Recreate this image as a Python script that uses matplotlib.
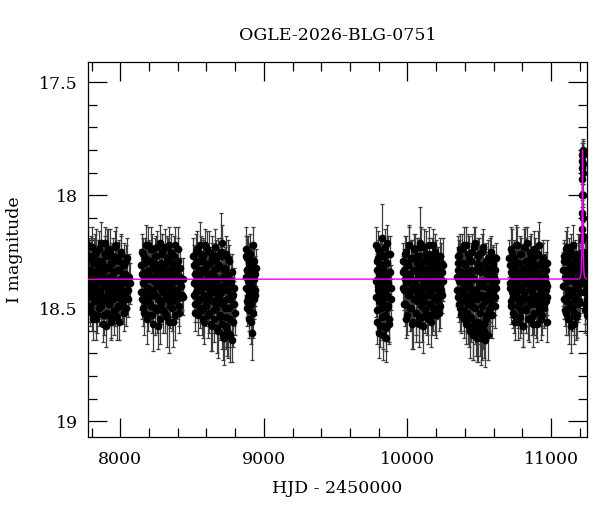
import numpy as np
import matplotlib
matplotlib.use("Agg")
import matplotlib.pyplot as plt
from matplotlib.ticker import MultipleLocator, FuncFormatter

plt.rcParams["font.family"] = ["DejaVu Serif"]

TITLE = "OGLE-2026-BLG-0751"

# ---- season 1 ----
s1_t = [7778, 7782, 7787, 7791, 7795, 7800, 7804, 7809, 7813, 7818, 7822, 7826, 7831, 7836, 7840,
        7845, 7849, 7854, 7858, 7863, 7867, 7872, 7876, 7881, 7886, 7890, 7895, 7899, 7904, 7908,
        7913, 7918, 7922, 7927, 7931, 7936, 7941, 7945, 7950, 7954, 7959, 7964, 7968, 7973, 7978,
        7982, 7987, 7992, 7996, 8001, 8006, 8011, 8016, 8021, 8026, 8031, 8037, 8043, 8052, 8066]
s1_m = [18.22, 18.41, 18.33, 18.50, 18.28, 18.45, 18.36, 18.55, 18.30, 18.39,
        18.26, 18.47, 18.34, 18.42, 18.53, 18.31, 18.38, 18.24, 18.44, 18.35,
        18.49, 18.29, 18.40, 18.57, 18.33, 18.21, 18.46, 18.37, 18.52, 18.27,
        18.43, 18.32, 18.48, 18.39, 18.25, 18.56, 18.36, 18.30, 18.44, 18.51,
        18.34, 18.23, 18.41, 18.38, 18.54, 18.28, 18.45, 18.33, 18.40, 18.49,
        18.26, 18.37, 18.47, 18.31, 18.43, 18.35, 18.50, 18.29, 18.42, 18.39]
s1_e = [0.08, 0.07, 0.09, 0.08, 0.10, 0.07, 0.08, 0.09, 0.07, 0.08,
        0.09, 0.08, 0.07, 0.11, 0.08, 0.09, 0.07, 0.08, 0.10, 0.08,
        0.07, 0.09, 0.08, 0.08, 0.10, 0.07, 0.09, 0.08, 0.07, 0.12,
        0.08, 0.09, 0.07, 0.08, 0.10, 0.08, 0.07, 0.09, 0.08, 0.11,
        0.08, 0.07, 0.09, 0.08, 0.10, 0.07, 0.08, 0.09, 0.08, 0.07,
        0.09, 0.08, 0.10, 0.07, 0.08, 0.09, 0.08, 0.07, 0.08, 0.09]
s1b_t = [7780, 7784, 7789, 7793, 7798, 7802, 7806, 7811, 7815, 7820, 7824, 7829, 7833, 7838, 7842,
         7847, 7851, 7856, 7860, 7865, 7869, 7874, 7879, 7883, 7888, 7892, 7897, 7901, 7906, 7911,
         7915, 7920, 7924, 7929, 7934, 7938, 7943, 7947, 7952, 7957, 7961, 7966, 7970, 7975, 7980,
         7984, 7989, 7994, 7998, 8003, 8008, 8013, 8018, 8023, 8028, 8034, 8040, 8047, 8057, 8062]
s1b_m = [18.38, 18.27, 18.49, 18.34, 18.43, 18.23, 18.52, 18.37, 18.30, 18.46,
         18.40, 18.25, 18.55, 18.33, 18.44, 18.29, 18.50, 18.36, 18.42, 18.21,
         18.47, 18.35, 18.31, 18.53, 18.39, 18.26, 18.45, 18.58, 18.32, 18.41,
         18.24, 18.48, 18.36, 18.43, 18.30, 18.54, 18.38, 18.27, 18.46, 18.34,
         18.51, 18.40, 18.22, 18.44, 18.33, 18.49, 18.29, 18.56, 18.37, 18.42,
         18.25, 18.47, 18.35, 18.52, 18.31, 18.44, 18.39, 18.28, 18.46, 18.36]
s1b_e = [0.09, 0.08, 0.07, 0.10, 0.08, 0.09, 0.08, 0.07, 0.11, 0.08,
         0.08, 0.10, 0.09, 0.07, 0.08, 0.09, 0.08, 0.12, 0.07, 0.09,
         0.08, 0.07, 0.10, 0.09, 0.08, 0.08, 0.07, 0.09, 0.10, 0.08,
         0.09, 0.07, 0.08, 0.11, 0.08, 0.09, 0.07, 0.08, 0.10, 0.08,
         0.07, 0.09, 0.08, 0.08, 0.10, 0.07, 0.09, 0.08, 0.08, 0.11,
         0.07, 0.08, 0.09, 0.08, 0.10, 0.07, 0.08, 0.09, 0.08, 0.10]

# ---- season 2 ----
s2_t = [8143, 8148, 8152, 8157, 8162, 8166, 8171, 8176, 8180, 8185, 8190, 8194, 8199, 8204, 8208,
        8213, 8218, 8222, 8227, 8232, 8236, 8241, 8246, 8250, 8255, 8260, 8264, 8269, 8274, 8278,
        8283, 8288, 8292, 8297, 8302, 8306, 8311, 8316, 8320, 8325, 8330, 8334, 8339, 8344, 8348,
        8353, 8358, 8362, 8367, 8372, 8376, 8381, 8386, 8391, 8396, 8401, 8407, 8414, 8424, 8438]
s2_m = [18.31, 18.46, 18.25, 18.39, 18.52, 18.34, 18.28, 18.44, 18.37, 18.55,
        18.22, 18.41, 18.33, 18.48, 18.29, 18.36, 18.53, 18.24, 18.43, 18.38,
        18.30, 18.50, 18.35, 18.27, 18.45, 18.40, 18.58, 18.32, 18.21, 18.47,
        18.36, 18.42, 18.26, 18.51, 18.34, 18.39, 18.23, 18.46, 18.30, 18.54,
        18.37, 18.28, 18.44, 18.33, 18.49, 18.25, 18.41, 18.35, 18.56, 18.31,
        18.38, 18.22, 18.47, 18.34, 18.43, 18.29, 18.52, 18.36, 18.40, 18.45]
s2_e = [0.07, 0.09, 0.08, 0.08, 0.10, 0.07, 0.09, 0.08, 0.07, 0.11,
        0.08, 0.08, 0.09, 0.07, 0.08, 0.10, 0.08, 0.07, 0.09, 0.08,
        0.08, 0.12, 0.07, 0.09, 0.08, 0.08, 0.10, 0.07, 0.08, 0.09,
        0.07, 0.08, 0.09, 0.10, 0.07, 0.08, 0.08, 0.09, 0.07, 0.13,
        0.08, 0.09, 0.07, 0.08, 0.10, 0.08, 0.07, 0.09, 0.11, 0.08,
        0.07, 0.08, 0.09, 0.08, 0.07, 0.10, 0.09, 0.08, 0.07, 0.08]
s2b_t = [8145, 8150, 8155, 8159, 8164, 8169, 8173, 8178, 8183, 8187, 8192, 8197, 8201, 8206, 8211,
         8215, 8220, 8225, 8229, 8234, 8239, 8243, 8248, 8253, 8257, 8262, 8267, 8271, 8276, 8281,
         8285, 8290, 8295, 8299, 8304, 8309, 8313, 8318, 8323, 8327, 8332, 8337, 8341, 8346, 8351,
         8355, 8360, 8365, 8369, 8374, 8379, 8384, 8389, 8394, 8399, 8404, 8410, 8418, 8428, 8434]
s2b_m = [18.43, 18.35, 18.26, 18.50, 18.38, 18.30, 18.47, 18.22, 18.41, 18.34,
         18.53, 18.29, 18.45, 18.37, 18.24, 18.49, 18.32, 18.42, 18.57, 18.36,
         18.27, 18.44, 18.39, 18.51, 18.23, 18.46, 18.33, 18.40, 18.55, 18.30,
         18.48, 18.25, 18.38, 18.43, 18.31, 18.52, 18.36, 18.45, 18.28, 18.41,
         18.34, 18.56, 18.22, 18.47, 18.39, 18.30, 18.50, 18.35, 18.44, 18.27,
         18.42, 18.53, 18.33, 18.46, 18.38, 18.24, 18.49, 18.32, 18.44, 18.37]
s2b_e = [0.08, 0.09, 0.07, 0.08, 0.10, 0.08, 0.07, 0.09, 0.08, 0.11,
         0.07, 0.09, 0.08, 0.08, 0.10, 0.07, 0.09, 0.08, 0.12, 0.07,
         0.08, 0.09, 0.08, 0.10, 0.07, 0.08, 0.09, 0.08, 0.11, 0.07,
         0.09, 0.08, 0.07, 0.10, 0.08, 0.09, 0.08, 0.07, 0.10, 0.08,
         0.09, 0.14, 0.08, 0.07, 0.09, 0.08, 0.10, 0.08, 0.07, 0.09,
         0.08, 0.11, 0.07, 0.09, 0.08, 0.10, 0.09, 0.08, 0.07, 0.09]

# ---- season 3 ----
s3_t = [8509, 8514, 8518, 8523, 8528, 8532, 8537, 8541, 8546, 8551, 8555, 8560, 8565, 8569, 8574,
        8579, 8583, 8588, 8593, 8597, 8602, 8607, 8611, 8616, 8621, 8625, 8630, 8635, 8639, 8644,
        8649, 8653, 8658, 8663, 8667, 8672, 8677, 8681, 8686, 8691, 8695, 8700, 8705, 8709, 8714,
        8719, 8723, 8728, 8733, 8737, 8742, 8747, 8752, 8757, 8762, 8767, 8773, 8780, 8788, 8797]
s3_m = [18.27, 18.44, 18.35, 18.52, 18.30, 18.40, 18.24, 18.47, 18.36, 18.33,
        18.50, 18.26, 18.42, 18.38, 18.55, 18.29, 18.45, 18.34, 18.22, 18.48,
        18.37, 18.31, 18.53, 18.41, 18.25, 18.46, 18.35, 18.57, 18.28, 18.43,
        18.39, 18.51, 18.23, 18.36, 18.48, 18.32, 18.59, 18.27, 18.44, 18.40,
        18.54, 18.25, 18.47, 18.21, 18.62, 18.37, 18.33, 18.50, 18.26, 18.58,
        18.42, 18.35, 18.61, 18.29, 18.46, 18.55, 18.38, 18.64, 18.44, 18.52]
s3_e = [0.08, 0.07, 0.09, 0.08, 0.07, 0.10, 0.08, 0.09, 0.07, 0.08,
        0.09, 0.08, 0.10, 0.07, 0.08, 0.09, 0.11, 0.08, 0.07, 0.09,
        0.08, 0.08, 0.10, 0.07, 0.09, 0.08, 0.08, 0.12, 0.07, 0.09,
        0.08, 0.10, 0.08, 0.07, 0.09, 0.08, 0.11, 0.08, 0.13, 0.09,
        0.10, 0.17, 0.09, 0.08, 0.11, 0.07, 0.09, 0.12, 0.08, 0.10,
        0.09, 0.08, 0.11, 0.07, 0.10, 0.12, 0.09, 0.10, 0.08, 0.10]
s3b_t = [8511, 8516, 8521, 8525, 8530, 8535, 8539, 8544, 8548, 8553, 8558, 8562, 8567, 8572, 8576,
         8581, 8586, 8590, 8595, 8600, 8604, 8609, 8614, 8618, 8623, 8628, 8632, 8637, 8642, 8646,
         8651, 8656, 8660, 8665, 8670, 8674, 8679, 8684, 8688, 8693, 8698, 8702, 8707, 8712, 8716,
         8721, 8726, 8730, 8735, 8740, 8744, 8749, 8754, 8759, 8764, 8770, 8776, 8784, 8792, 8795]
s3b_m = [18.39, 18.31, 18.48, 18.25, 18.43, 18.36, 18.53, 18.29, 18.41, 18.22,
         18.46, 18.34, 18.51, 18.38, 18.27, 18.44, 18.56, 18.32, 18.40, 18.49,
         18.24, 18.45, 18.35, 18.52, 18.30, 18.42, 18.38, 18.58, 18.26, 18.47,
         18.33, 18.55, 18.41, 18.29, 18.50, 18.37, 18.45, 18.60, 18.31, 18.53,
         18.43, 18.27, 18.57, 18.36, 18.48, 18.63, 18.40, 18.32, 18.54, 18.46,
         18.60, 18.28, 18.50, 18.39, 18.62, 18.44, 18.34, 18.56, 18.41, 18.48]
s3b_e = [0.07, 0.09, 0.08, 0.08, 0.10, 0.07, 0.09, 0.08, 0.07, 0.10,
         0.08, 0.09, 0.11, 0.07, 0.08, 0.09, 0.10, 0.08, 0.07, 0.09,
         0.08, 0.10, 0.08, 0.09, 0.07, 0.08, 0.09, 0.11, 0.08, 0.09,
         0.07, 0.10, 0.08, 0.09, 0.11, 0.08, 0.09, 0.12, 0.08, 0.10,
         0.09, 0.08, 0.11, 0.09, 0.10, 0.12, 0.08, 0.09, 0.13, 0.10,
         0.11, 0.08, 0.10, 0.09, 0.12, 0.10, 0.08, 0.11, 0.09, 0.10]

# ---- season 4 (short) ----
s4_t = [8874, 8877, 8880, 8883, 8886, 8889, 8892, 8895, 8898, 8901, 8904, 8907, 8910,
        8913, 8916, 8919, 8922, 8925, 8928, 8931, 8934, 8937, 8940, 8942, 8918,
        8875, 8879, 8882, 8885, 8888, 8891, 8894, 8897, 8900, 8903, 8906, 8909, 8912, 8921, 8936]
s4_m = [18.24, 18.41, 18.33, 18.50, 18.28, 18.38, 18.45, 18.30, 18.55, 18.36, 18.26, 18.43, 18.34,
        18.48, 18.31, 18.40, 18.22, 18.52, 18.37, 18.29, 18.46, 18.35, 18.42, 18.32, 18.61,
        18.36, 18.27, 18.47, 18.33, 18.42, 18.25, 18.51, 18.38, 18.30, 18.45, 18.34, 18.56, 18.40, 18.29, 18.44]
s4_e = [0.10, 0.07, 0.09, 0.08, 0.10, 0.07, 0.08, 0.09, 0.08, 0.07, 0.09, 0.08, 0.10,
        0.07, 0.08, 0.09, 0.08, 0.11, 0.07, 0.08, 0.09, 0.08, 0.07, 0.08, 0.12,
        0.08, 0.09, 0.07, 0.08, 0.10, 0.07, 0.09, 0.08, 0.07, 0.09, 0.08, 0.10, 0.08, 0.07, 0.09]

# ---- season 5 ----
s5_t = [9780, 9784, 9787, 9791, 9795, 9798, 9802, 9806, 9809, 9813, 9817, 9820, 9824, 9828, 9831,
        9835, 9839, 9842, 9846, 9850, 9853, 9857, 9861, 9864, 9868, 9872, 9876, 9880, 9885, 9889,
        9782, 9785, 9789, 9793, 9796, 9800, 9804, 9807, 9811, 9815, 9819, 9822, 9826, 9829, 9833,
        9837, 9841, 9844, 9848, 9852, 9855, 9859, 9863, 9866, 9870]
s5_m = [18.22, 18.45, 18.33, 18.56, 18.28, 18.40, 18.61, 18.35, 18.25, 18.50, 18.38, 18.19, 18.47, 18.31, 18.58,
        18.42, 18.27, 18.53, 18.36, 18.63, 18.30, 18.44, 18.21, 18.49, 18.39, 18.57, 18.34, 18.26, 18.46, 18.41,
        18.38, 18.29, 18.51, 18.42, 18.24, 18.47, 18.35, 18.58, 18.31, 18.44, 18.27, 18.54, 18.39, 18.62, 18.33,
        18.48, 18.23, 18.45, 18.36, 18.59, 18.30, 18.50, 18.41, 18.26, 18.55]
s5_e = [0.08, 0.09, 0.07, 0.10, 0.08, 0.09, 0.11, 0.08, 0.07, 0.09, 0.08, 0.15, 0.09, 0.08, 0.10,
        0.08, 0.07, 0.09, 0.08, 0.11, 0.08, 0.09, 0.08, 0.10, 0.07, 0.09, 0.08, 0.08, 0.09, 0.10,
        0.08, 0.07, 0.09, 0.08, 0.08, 0.10, 0.07, 0.09, 0.08, 0.08, 0.09, 0.10, 0.07, 0.11, 0.08,
        0.09, 0.08, 0.07, 0.09, 0.10, 0.08, 0.09, 0.07, 0.08, 0.10]

# ---- season 6 ----
s6_t = [9967, 9972, 9976, 9981, 9986, 9990, 9995, 9999, 10004, 10009, 10013, 10018, 10022, 10027, 10032,
        10036, 10041, 10045, 10050, 10055, 10059, 10064, 10068, 10073, 10078, 10082, 10087, 10091, 10096, 10101,
        10105, 10110, 10114, 10119, 10124, 10128, 10133, 10137, 10142, 10147, 10151, 10156, 10160, 10165, 10170,
        10174, 10179, 10183, 10188, 10193, 10197, 10202, 10206, 10211, 10216, 10221, 10227, 10233, 10240, 10248]
s6_m = [18.34, 18.29, 18.42, 18.37, 18.48, 18.25, 18.39, 18.53, 18.31, 18.44,
        18.22, 18.36, 18.50, 18.28, 18.41, 18.56, 18.33, 18.46, 18.24, 18.38,
        18.52, 18.30, 18.43, 18.35, 18.57, 18.27, 18.45, 18.21, 18.40, 18.54,
        18.32, 18.47, 18.37, 18.23, 18.51, 18.34, 18.44, 18.29, 18.55, 18.39,
        18.26, 18.48, 18.36, 18.42, 18.31, 18.53, 18.22, 18.45, 18.38, 18.50,
        18.28, 18.41, 18.35, 18.47, 18.33, 18.52, 18.40, 18.30, 18.44, 18.38]
s6_e = [0.07, 0.08, 0.09, 0.08, 0.10, 0.07, 0.08, 0.09, 0.08, 0.07,
        0.09, 0.08, 0.10, 0.08, 0.07, 0.12, 0.08, 0.09, 0.07, 0.08,
        0.13, 0.08, 0.09, 0.07, 0.10, 0.08, 0.09, 0.16, 0.08, 0.11,
        0.07, 0.09, 0.08, 0.08, 0.10, 0.07, 0.09, 0.08, 0.11, 0.08,
        0.07, 0.09, 0.08, 0.10, 0.08, 0.09, 0.07, 0.08, 0.09, 0.12,
        0.08, 0.07, 0.09, 0.08, 0.10, 0.08, 0.07, 0.09, 0.08, 0.09]
s6b_t = [9969, 9974, 9978, 9983, 9988, 9992, 9997, 10001, 10006, 10011, 10015, 10020, 10024, 10029, 10034,
         10038, 10043, 10047, 10052, 10057, 10061, 10066, 10070, 10075, 10080, 10084, 10089, 10093, 10098, 10103,
         10107, 10112, 10116, 10121, 10126, 10130, 10135, 10139, 10144, 10149, 10153, 10158, 10162, 10167, 10172,
         10176, 10181, 10185, 10190, 10195, 10199, 10204, 10208, 10213, 10218, 10224, 10230, 10236, 10243, 10246]
s6b_m = [18.41, 18.33, 18.48, 18.26, 18.39, 18.55, 18.30, 18.44, 18.36, 18.22,
         18.50, 18.35, 18.42, 18.28, 18.57, 18.38, 18.24, 18.46, 18.33, 18.52,
         18.40, 18.27, 18.47, 18.36, 18.31, 18.54, 18.43, 18.23, 18.49, 18.37,
         18.58, 18.29, 18.45, 18.34, 18.41, 18.26, 18.53, 18.39, 18.32, 18.48,
         18.22, 18.44, 18.56, 18.35, 18.28, 18.50, 18.41, 18.33, 18.46, 18.25,
         18.53, 18.38, 18.30, 18.44, 18.36, 18.49, 18.27, 18.42, 18.34, 18.31]
s6b_e = [0.08, 0.09, 0.07, 0.08, 0.10, 0.08, 0.07, 0.09, 0.08, 0.08,
         0.10, 0.07, 0.09, 0.08, 0.11, 0.08, 0.07, 0.09, 0.08, 0.10,
         0.07, 0.08, 0.09, 0.08, 0.07, 0.11, 0.08, 0.09, 0.10, 0.08,
         0.12, 0.08, 0.09, 0.07, 0.08, 0.10, 0.09, 0.08, 0.07, 0.09,
         0.08, 0.08, 0.11, 0.07, 0.09, 0.10, 0.08, 0.07, 0.09, 0.08,
         0.10, 0.08, 0.07, 0.09, 0.08, 0.10, 0.08, 0.09, 0.07, 0.12]

# ---- season 7 ----
s7_t = [10344, 10349, 10353, 10358, 10362, 10367, 10372, 10376, 10381, 10385, 10390, 10395, 10399, 10404, 10408,
        10413, 10418, 10422, 10427, 10431, 10436, 10441, 10445, 10450, 10454, 10459, 10464, 10468, 10473, 10477,
        10482, 10487, 10491, 10496, 10500, 10505, 10510, 10514, 10519, 10523, 10528, 10533, 10537, 10542, 10546,
        10551, 10556, 10560, 10565, 10569, 10574, 10579, 10583, 10588, 10592, 10597, 10602, 10607, 10613, 10620]
s7_m = [18.36, 18.30, 18.45, 18.38, 18.27, 18.50, 18.34, 18.42, 18.24, 18.47,
        18.39, 18.55, 18.31, 18.44, 18.22, 18.52, 18.36, 18.48, 18.28, 18.58,
        18.41, 18.33, 18.54, 18.25, 18.46, 18.61, 18.37, 18.21, 18.50, 18.43,
        18.63, 18.30, 18.56, 18.39, 18.26, 18.59, 18.45, 18.34, 18.62, 18.49,
        18.23, 18.57, 18.40, 18.64, 18.32, 18.53, 18.44, 18.28, 18.51, 18.37,
        18.46, 18.25, 18.42, 18.35, 18.48, 18.31, 18.40, 18.45, 18.33, 18.38]
s7_e = [0.08, 0.07, 0.09, 0.08, 0.07, 0.10, 0.08, 0.09, 0.07, 0.08,
        0.09, 0.08, 0.10, 0.07, 0.08, 0.09, 0.08, 0.08, 0.10, 0.09,
        0.08, 0.07, 0.11, 0.08, 0.09, 0.12, 0.08, 0.07, 0.10, 0.09,
        0.11, 0.08, 0.10, 0.08, 0.07, 0.12, 0.09, 0.08, 0.11, 0.10,
        0.08, 0.09, 0.08, 0.12, 0.07, 0.10, 0.09, 0.08, 0.09, 0.08,
        0.10, 0.07, 0.09, 0.08, 0.10, 0.08, 0.09, 0.08, 0.07, 0.09]
s7b_t = [10346, 10351, 10355, 10360, 10365, 10369, 10374, 10378, 10383, 10388, 10392, 10397, 10401, 10406, 10411,
         10415, 10420, 10424, 10429, 10434, 10438, 10443, 10447, 10452, 10457, 10461, 10466, 10470, 10475, 10480,
         10484, 10489, 10493, 10498, 10503, 10507, 10512, 10516, 10521, 10526, 10530, 10535, 10539, 10544, 10549,
         10553, 10558, 10562, 10567, 10572, 10576, 10581, 10585, 10590, 10595, 10599, 10604, 10610, 10616, 10618]
s7b_m = [18.42, 18.33, 18.27, 18.48, 18.38, 18.24, 18.53, 18.35, 18.45, 18.30,
         18.51, 18.22, 18.41, 18.57, 18.34, 18.47, 18.26, 18.55, 18.39, 18.44,
         18.60, 18.29, 18.49, 18.36, 18.62, 18.42, 18.23, 18.56, 18.33, 18.59,
         18.46, 18.27, 18.61, 18.40, 18.52, 18.31, 18.63, 18.44, 18.25, 18.57,
         18.38, 18.60, 18.47, 18.29, 18.55, 18.35, 18.62, 18.41, 18.32, 18.50,
         18.27, 18.45, 18.38, 18.53, 18.30, 18.43, 18.36, 18.49, 18.28, 18.41]
s7b_e = [0.07, 0.08, 0.09, 0.08, 0.10, 0.07, 0.08, 0.09, 0.08, 0.07,
         0.09, 0.08, 0.10, 0.09, 0.07, 0.08, 0.09, 0.11, 0.08, 0.07,
         0.12, 0.08, 0.09, 0.08, 0.11, 0.07, 0.09, 0.10, 0.08, 0.12,
         0.09, 0.08, 0.13, 0.08, 0.10, 0.07, 0.12, 0.09, 0.08, 0.11,
         0.08, 0.12, 0.09, 0.08, 0.10, 0.07, 0.11, 0.09, 0.08, 0.10,
         0.08, 0.09, 0.07, 0.10, 0.08, 0.09, 0.08, 0.10, 0.07, 0.09]

# ---- season 8 ----
s8_t = [10710, 10714, 10719, 10723, 10728, 10732, 10737, 10741, 10746, 10750, 10755, 10759, 10764, 10768, 10773,
        10777, 10782, 10786, 10791, 10795, 10800, 10804, 10809, 10813, 10818, 10822, 10827, 10831, 10836, 10840,
        10845, 10849, 10854, 10858, 10863, 10867, 10872, 10876, 10881, 10885, 10890, 10894, 10899, 10903, 10908,
        10912, 10917, 10921, 10926, 10930, 10935, 10939, 10944, 10948, 10953, 10957, 10962, 10966, 10971, 10975]
s8_m = [18.28, 18.41, 18.34, 18.49, 18.25, 18.38, 18.45, 18.31, 18.53, 18.36,
        18.22, 18.44, 18.39, 18.56, 18.30, 18.47, 18.35, 18.26, 18.51, 18.40,
        18.33, 18.58, 18.23, 18.43, 18.37, 18.50, 18.29, 18.46, 18.21, 18.55,
        18.38, 18.32, 18.48, 18.42, 18.27, 18.54, 18.35, 18.44, 18.24, 18.52,
        18.39, 18.31, 18.47, 18.57, 18.34, 18.26, 18.45, 18.41, 18.50, 18.30,
        18.37, 18.53, 18.43, 18.28, 18.48, 18.36, 18.42, 18.33, 18.40, 18.56]
s8_e = [0.08, 0.07, 0.09, 0.08, 0.10, 0.07, 0.08, 0.09, 0.08, 0.07,
        0.09, 0.08, 0.10, 0.08, 0.07, 0.09, 0.08, 0.08, 0.10, 0.07,
        0.08, 0.09, 0.08, 0.07, 0.09, 0.08, 0.10, 0.08, 0.07, 0.09,
        0.08, 0.07, 0.09, 0.08, 0.10, 0.08, 0.07, 0.09, 0.08, 0.10,
        0.07, 0.08, 0.09, 0.08, 0.07, 0.10, 0.08, 0.09, 0.08, 0.07,
        0.08, 0.09, 0.08, 0.07, 0.10, 0.08, 0.09, 0.08, 0.07, 0.09]
s8b_t = [10712, 10716, 10721, 10725, 10730, 10734, 10739, 10743, 10748, 10752, 10757, 10761, 10766, 10770, 10775,
         10779, 10784, 10788, 10793, 10797, 10802, 10806, 10811, 10815, 10820, 10824, 10829, 10833, 10838, 10842,
         10847, 10851, 10856, 10860, 10865, 10869, 10874, 10878, 10883, 10887, 10892, 10896, 10901, 10905, 10910,
         10914, 10919, 10923, 10928, 10932, 10937, 10941, 10946, 10950, 10955, 10959, 10964, 10968, 10973, 10974]
s8b_m = [18.39, 18.31, 18.47, 18.24, 18.43, 18.35, 18.52, 18.28, 18.41, 18.56,
         18.33, 18.45, 18.22, 18.49, 18.37, 18.30, 18.54, 18.42, 18.26, 18.47,
         18.36, 18.58, 18.32, 18.44, 18.23, 18.51, 18.39, 18.29, 18.46, 18.35,
         18.55, 18.41, 18.25, 18.48, 18.33, 18.43, 18.57, 18.30, 18.45, 18.37,
         18.27, 18.52, 18.40, 18.34, 18.49, 18.22, 18.44, 18.36, 18.55, 18.31,
         18.46, 18.38, 18.28, 18.50, 18.42, 18.33, 18.47, 18.39, 18.30, 18.45]
s8b_e = [0.09, 0.08, 0.07, 0.10, 0.08, 0.09, 0.07, 0.08, 0.10, 0.08,
         0.07, 0.09, 0.08, 0.10, 0.07, 0.08, 0.09, 0.08, 0.07, 0.11,
         0.08, 0.09, 0.07, 0.08, 0.09, 0.10, 0.08, 0.07, 0.09, 0.08,
         0.10, 0.08, 0.07, 0.09, 0.08, 0.08, 0.10, 0.07, 0.09, 0.08,
         0.08, 0.11, 0.07, 0.09, 0.08, 0.10, 0.08, 0.07, 0.09, 0.08,
         0.07, 0.10, 0.08, 0.09, 0.08, 0.07, 0.09, 0.08, 0.10, 0.08]

# ---- season 9, baseline part ----
s9_t = [11084, 11089, 11093, 11098, 11102, 11107, 11111, 11116, 11120, 11125, 11129, 11134, 11138, 11143, 11147,
        11152, 11156, 11161, 11165, 11170, 11174, 11179, 11183, 11188, 11192, 11197, 11201, 11206,
        11232, 11236, 11240, 11244, 11248, 11252,
        11086, 11091, 11095, 11100, 11104, 11109, 11113, 11118, 11122, 11127, 11131, 11136, 11140, 11145, 11149,
        11154, 11158, 11163, 11167, 11172, 11176, 11181, 11185, 11190, 11194, 11199, 11203, 11208,
        11234, 11238, 11242, 11246, 11250, 11251]
s9_m = [18.33, 18.46, 18.27, 18.40, 18.52, 18.35, 18.23, 18.44, 18.38, 18.55, 18.30, 18.48, 18.36, 18.25, 18.50,
        18.42, 18.32, 18.57, 18.39, 18.28, 18.45, 18.34, 18.53, 18.41, 18.26, 18.47, 18.37, 18.31,
        18.43, 18.29, 18.51, 18.38, 18.46, 18.35,
        18.40, 18.29, 18.51, 18.36, 18.24, 18.47, 18.33, 18.55, 18.42, 18.27, 18.49, 18.35, 18.58, 18.31, 18.44,
        18.22, 18.52, 18.38, 18.46, 18.30, 18.54, 18.40, 18.26, 18.48, 18.36, 18.43, 18.32, 18.39,
        18.33, 18.48, 18.40, 18.27, 18.53, 18.42]
s9_e = [0.08, 0.09, 0.07, 0.08, 0.10, 0.08, 0.09, 0.07, 0.08, 0.11, 0.08, 0.09, 0.07, 0.08, 0.10,
        0.08, 0.07, 0.09, 0.08, 0.08, 0.09, 0.07, 0.10, 0.08, 0.09, 0.08, 0.07, 0.09,
        0.08, 0.08, 0.10, 0.07, 0.09, 0.08,
        0.09, 0.08, 0.07, 0.10, 0.08, 0.09, 0.08, 0.07, 0.10, 0.08, 0.09, 0.08, 0.12, 0.07, 0.08,
        0.09, 0.10, 0.08, 0.07, 0.09, 0.10, 0.08, 0.09, 0.08, 0.07, 0.09, 0.08, 0.07,
        0.08, 0.09, 0.08, 0.10, 0.09, 0.08]

# ---- event peak ----
pk_t = [11210, 11212, 11213, 11214, 11215, 11216, 11217, 11218, 11218.5, 11219, 11219.5,
        11220, 11220.5, 11221, 11221.5, 11222, 11223, 11224, 11225, 11226, 11228, 11230]
pk_m = [18.33, 18.30, 18.27, 18.20, 18.15, 18.08, 18.00, 17.93, 17.88, 17.85, 17.82,
        17.81, 17.80, 17.82, 17.86, 17.90, 18.00, 18.10, 18.18, 18.25, 18.32, 18.35]
pk_e = [0.07, 0.07, 0.06, 0.06, 0.06, 0.06, 0.05, 0.05, 0.05, 0.05, 0.05,
        0.05, 0.05, 0.05, 0.05, 0.05, 0.05, 0.06, 0.06, 0.06, 0.07, 0.07]

# ---- model curve ----
model_t = [7773, 11190, 11200, 11205, 11209, 11212, 11214, 11216, 11217.5, 11219, 11220,
           11221, 11222.5, 11224, 11226, 11228, 11231, 11235, 11240, 11250, 11253]
model_m = [18.372, 18.371, 18.368, 18.362, 18.35, 18.32, 18.27, 18.15, 18.02, 17.88, 17.80,
           17.88, 18.02, 18.15, 18.27, 18.32, 18.35, 18.362, 18.368, 18.371, 18.372]

t_all = (s1_t + s1b_t + s2_t + s2b_t + s3_t + s3b_t + s4_t + s5_t + s6_t + s6b_t
         + s7_t + s7b_t + s8_t + s8b_t + s9_t + pk_t)
m_all = (s1_m + s1b_m + s2_m + s2b_m + s3_m + s3b_m + s4_m + s5_m + s6_m + s6b_m
         + s7_m + s7b_m + s8_m + s8b_m + s9_m + pk_m)
e_all = (s1_e + s1b_e + s2_e + s2b_e + s3_e + s3b_e + s4_e + s5_e + s6_e + s6b_e
         + s7_e + s7b_e + s8_e + s8b_e + s9_e + pk_e)

fig = plt.figure(figsize=(6.0, 5.12), dpi=100)
ax = fig.add_axes([0.1462, 0.1471, 0.8326, 0.7312])

ax.errorbar(t_all, m_all, yerr=e_all, fmt="o", color="black", ms=4.5,
            ecolor="#3c3c3c", elinewidth=0.9, capsize=1.7, capthick=0.9, zorder=2)
ax.plot(model_t, model_m, color="#ee00ee", lw=1.0, zorder=5)

ax.set_xlim(7773, 11253)
ax.set_ylim(19.069, 17.4115)

ax.xaxis.set_major_locator(MultipleLocator(1000))
ax.xaxis.set_minor_locator(MultipleLocator(200))
ax.yaxis.set_major_locator(MultipleLocator(0.5))
ax.yaxis.set_minor_locator(MultipleLocator(0.1))
ax.yaxis.set_major_formatter(FuncFormatter(lambda v, p: "%g" % v))

ax.tick_params(which="both", direction="in", top=True, right=True, labelsize=12.5, width=0.9)
ax.tick_params(which="major", length=13.5)
ax.tick_params(which="minor", length=6.8)
ax.tick_params(axis="x", which="major", pad=10)
ax.tick_params(axis="y", which="major", pad=7)
for sp in ax.spines.values():
    sp.set_linewidth(0.9)

ax.set_title(TITLE, fontsize=12.5, pad=16)
ax.set_xlabel("HJD - 2450000", fontsize=12.5, labelpad=9)
ax.set_ylabel("I magnitude", fontsize=12.5, labelpad=12)

fig.savefig("out.png", dpi=100)
